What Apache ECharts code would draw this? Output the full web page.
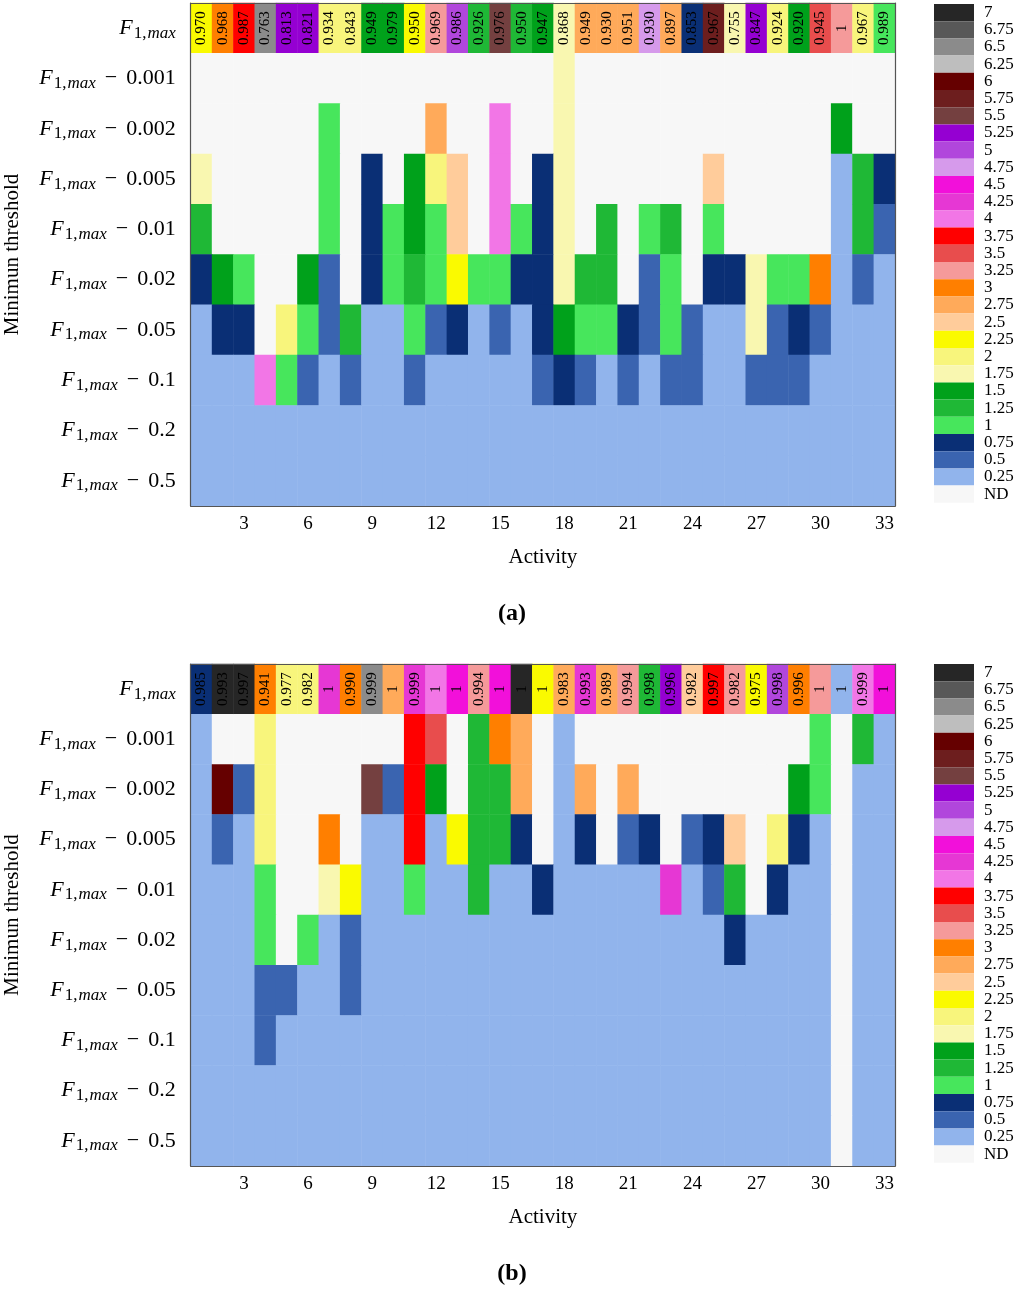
<!DOCTYPE html>
<html>
<head>
<meta charset="utf-8">
<script src="https://cdn.jsdelivr.net/npm/echarts@6/dist/echarts.min.js"></script>
<style>html,body{margin:0;padding:0;background:#fff}</style>
</head>
<body>
<div id="main" style="width:1024px;height:1292px"></div>
<script type="text/javascript">
	// 活动编号 1..33
	var activities = [];
	for (var k = 1; k <= 33; k++) activities.push(String(k));
	// 行：F1,max 以及各阈值
	var thresholds = ['F1max', '0.001', '0.002', '0.005', '0.01', '0.02', '0.05', '0.1', '0.2', '0.5'];

	// 图例取值 0 代表 ND
	var levels = [0, 0.25, 0.5, 0.75, 1, 1.25, 1.5, 1.75, 2, 2.25, 2.5, 2.75, 3, 3.25, 3.5, 3.75,
		4, 4.25, 4.5, 4.75, 5, 5.25, 5.5, 5.75, 6, 6.25, 6.5, 6.75, 7];
	var levelColors = ['#f7f7f7', '#91b4ec', '#3a64b0', '#0a2f75', '#47e65c', '#1fb836', '#00a11b',
		'#f9f7b0', '#f8f57c', '#fafa00', '#ffcc9b', '#ffaa5a', '#ff7f00', '#f59a9a', '#e84d4d', '#ff0000',
		'#f276e6', '#e637d4', '#f210da', '#d69aeb', '#b146dc', '#9500d2', '#744040', '#6d1e1e', '#650000',
		'#bebebe', '#8b8b8b', '#585858', '#262626'];

	// (a) 顶行 F1,max
	var topA = [2.25, 3, 3.75, 6.5, 5.25, 5.25, 2, 2, 1.5, 1.5, 2.25, 3.25, 5, 1.25, 5.5, 1.25, 1.5,
		1.75, 2.75, 2.75, 2.75, 4.75, 2.75, 0.75, 5.75, 1.75, 5.25, 2, 1.5, 3.5, 3.25, 2, 1];
	var f1A = ['0.970', '0.968', '0.987', '0.763', '0.813', '0.821', '0.934', '0.843', '0.949', '0.979',
		'0.950', '0.969', '0.986', '0.926', '0.976', '0.950', '0.947', '0.868', '0.949', '0.930', '0.951',
		'0.930', '0.897', '0.853', '0.967', '0.755', '0.847', '0.924', '0.920', '0.945', '1', '0.967', '0.989'];
	var a001 = [0, 0, 0, 0, 0, 0, 0, 0, 0, 0, 0, 0, 0, 0, 0, 0, 0, 1.75, 0, 0, 0, 0, 0, 0, 0, 0, 0, 0, 0, 0, 0, 0, 0];
	var a002 = [0, 0, 0, 0, 0, 0, 1, 0, 0, 0, 0, 2.75, 0, 0, 4, 0, 0, 1.75, 0, 0, 0, 0, 0, 0, 0, 0, 0, 0, 0, 0, 1.5, 0, 0];
	var a005 = [1.75, 0, 0, 0, 0, 0, 1, 0, 0.75, 0, 1.5, 2, 2.5, 0, 4, 0, 0.75, 1.75, 0, 0, 0, 0, 0, 0, 2.5, 0, 0, 0, 0, 0, 0.25, 1.25, 0.75];
	var a01 = [1.25, 0, 0, 0, 0, 0, 1, 0, 0.75, 1, 1.5, 1, 2.5, 0, 4, 1, 0.75, 1.75, 0, 1.25, 0, 1, 1.25, 0, 1, 0, 0, 0, 0, 0, 0.25, 1.25, 0.5];
	var a02 = [0.75, 1.5, 1, 0, 0, 1.5, 0.5, 0, 0.75, 1, 1.25, 1, 2.25, 1, 1, 0.75, 0.75, 1.75, 1.25, 1.25, 0, 0.5, 1, 0, 0.75, 0.75, 1.75, 1, 1, 3, 0.25, 0.5, 0.25];
	var a05 = [0.25, 0.75, 0.75, 0, 2, 1, 0.5, 1.25, 0.25, 0.25, 1, 0.5, 0.75, 0.25, 0.5, 0.25, 0.75, 1.5, 1, 1, 0.75, 0.5, 1, 0.5, 0.25, 0.25, 1.75, 0.5, 0.75, 0.5, 0.25, 0.25, 0.25];
	var a1 = [0.25, 0.25, 0.25, 4, 1, 0.5, 0.25, 0.5, 0.25, 0.25, 0.5, 0.25, 0.25, 0.25, 0.25, 0.25, 0.5, 0.75, 0.5, 0.25, 0.5, 0.25, 0.5, 0.5, 0.25, 0.25, 0.5, 0.5, 0.5, 0.25, 0.25, 0.25, 0.25];
	var a2 = [0.25, 0.25, 0.25, 0.25, 0.25, 0.25, 0.25, 0.25, 0.25, 0.25, 0.25, 0.25, 0.25, 0.25, 0.25, 0.25, 0.25, 0.25, 0.25, 0.25, 0.25, 0.25, 0.25, 0.25, 0.25, 0.25, 0.25, 0.25, 0.25, 0.25, 0.25, 0.25, 0.25];
	var a5 = [0.25, 0.25, 0.25, 0.25, 0.25, 0.25, 0.25, 0.25, 0.25, 0.25, 0.25, 0.25, 0.25, 0.25, 0.25, 0.25, 0.25, 0.25, 0.25, 0.25, 0.25, 0.25, 0.25, 0.25, 0.25, 0.25, 0.25, 0.25, 0.25, 0.25, 0.25, 0.25, 0.25];

	// (b)
	var topB = [0.75, 7, 7, 3, 2, 2, 4.25, 3, 6.5, 2.75, 4.25, 4, 4.5, 3.25, 4.5, 7, 2.25, 2.75, 4.25,
		2.75, 3.25, 1.25, 5.25, 2.5, 3.75, 3.25, 2.25, 5, 3, 3.25, 0.25, 4, 4.5];
	var f1B = ['0.985', '0.993', '0.997', '0.941', '0.977', '0.982', '1', '0.990', '0.999', '1', '0.999',
		'1', '1', '0.994', '1', '1', '1', '0.983', '0.993', '0.989', '0.994', '0.998', '0.996', '0.982',
		'0.997', '0.982', '0.975', '0.998', '0.996', '1', '1', '0.999', '1'];
	var b001 = [0.25, 0, 0, 2, 0, 0, 0, 0, 0, 0, 3.75, 3.5, 0, 1.25, 3, 2.75, 0, 0.25, 0, 0, 0, 0, 0, 0, 0, 0, 0, 0, 0, 1, 0, 1.25, 0.25];
	var b002 = [0.25, 6, 0.5, 2, 0, 0, 0, 0, 5.5, 0.5, 3.75, 1.5, 0, 1.25, 1.25, 2.75, 0, 0.25, 2.75, 0, 2.75, 0, 0, 0, 0, 0, 0, 0, 1.5, 1, 0, 0.25, 0.25];
	var b005 = [0.25, 0.5, 0.25, 2, 0, 0, 3, 0, 0.25, 0.25, 3.75, 0.25, 2.25, 1.25, 1.25, 0.75, 0, 0.25, 0.75, 0, 0.5, 0.75, 0, 0.5, 0.75, 2.5, 0, 2, 0.75, 0.25, 0, 0.25, 0.25];
	var b01 = [0.25, 0.25, 0.25, 1, 0, 0, 1.75, 2.25, 0.25, 0.25, 1, 0.25, 0.25, 1.25, 0.25, 0.25, 0.75, 0.25, 0.25, 0.25, 0.25, 0.25, 4.25, 0.25, 0.5, 1.25, 0, 0.75, 0.25, 0.25, 0, 0.25, 0.25];
	var b02 = [0.25, 0.25, 0.25, 1, 0, 1, 0.25, 0.5, 0.25, 0.25, 0.25, 0.25, 0.25, 0.25, 0.25, 0.25, 0.25, 0.25, 0.25, 0.25, 0.25, 0.25, 0.25, 0.25, 0.25, 0.75, 0.25, 0.25, 0.25, 0.25, 0, 0.25, 0.25];
	var b05 = [0.25, 0.25, 0.25, 0.5, 0.5, 0.25, 0.25, 0.5, 0.25, 0.25, 0.25, 0.25, 0.25, 0.25, 0.25, 0.25, 0.25, 0.25, 0.25, 0.25, 0.25, 0.25, 0.25, 0.25, 0.25, 0.25, 0.25, 0.25, 0.25, 0.25, 0, 0.25, 0.25];
	var b1 = [0.25, 0.25, 0.25, 0.5, 0.25, 0.25, 0.25, 0.25, 0.25, 0.25, 0.25, 0.25, 0.25, 0.25, 0.25, 0.25, 0.25, 0.25, 0.25, 0.25, 0.25, 0.25, 0.25, 0.25, 0.25, 0.25, 0.25, 0.25, 0.25, 0.25, 0, 0.25, 0.25];
	var b2 = [0.25, 0.25, 0.25, 0.25, 0.25, 0.25, 0.25, 0.25, 0.25, 0.25, 0.25, 0.25, 0.25, 0.25, 0.25, 0.25, 0.25, 0.25, 0.25, 0.25, 0.25, 0.25, 0.25, 0.25, 0.25, 0.25, 0.25, 0.25, 0.25, 0.25, 0, 0.25, 0.25];
	var b5 = [0.25, 0.25, 0.25, 0.25, 0.25, 0.25, 0.25, 0.25, 0.25, 0.25, 0.25, 0.25, 0.25, 0.25, 0.25, 0.25, 0.25, 0.25, 0.25, 0.25, 0.25, 0.25, 0.25, 0.25, 0.25, 0.25, 0.25, 0.25, 0.25, 0.25, 0, 0.25, 0.25];

	var FONT = 'Liberation Serif';

	// 组装热力图数据 [x, y, value]，顶行带 F1 文字
	function buildData(top, labels, rows) {
		var data = [];
		for (var i = 0; i < top.length; i++) {
			data.push({ value: [i, 0, top[i]], label: { show: true, formatter: labels[i] } });
		}
		rows.forEach(function (r, j) {
			r.forEach(function (v, i) { data.push([i, j + 1, v]); });
		});
		return data;
	}
	var dataA = buildData(topA, f1A, [a001, a002, a005, a01, a02, a05, a1, a2, a5]);
	var dataB = buildData(topB, f1B, [b001, b002, b005, b01, b02, b05, b1, b2, b5]);

	var pieces = levels.map(function (v, i) {
		return { value: v, label: v === 0 ? 'ND' : String(v), color: levelColors[i] };
	});

	function yLabel(v) {
		if (v === 'F1max') return '{f|F}{s|1,}{si|max}';
		return '{f|F}{s|1,}{si|max}{m|−}{n|' + v + '}';
	}
	var yRich = {
		f: { fontFamily: FONT, fontStyle: 'italic', fontSize: 22, color: '#000' },
		s: { fontFamily: FONT, fontSize: 17, color: '#000', padding: [10, 1, 0, 1] },
		si: { fontFamily: FONT, fontStyle: 'italic', fontSize: 17, color: '#000', padding: [10, 0, 0, 0] },
		m: { fontFamily: FONT, fontSize: 22, color: '#000', padding: [0, 9, 0, 9] },
		n: { fontFamily: FONT, fontSize: 22, color: '#000' }
	};
	var every3 = function (i) { return (i + 1) % 3 === 0; };
	var lineStyle = { color: '#555', width: 1.2 };

	function axesFor(gi) {
		return {
			x: [
				{
					type: 'category', gridIndex: gi, data: activities, z: 5,
					axisLine: { lineStyle: lineStyle },
					axisTick: { inside: true, length: 5, interval: every3, alignWithLabel: true, lineStyle: lineStyle },
					axisLabel: { interval: every3, margin: 9, fontFamily: FONT, fontSize: 19, color: '#000' },
					name: 'Activity', nameLocation: 'middle', nameGap: 41,
					nameTextStyle: { fontFamily: FONT, fontSize: 21, color: '#000' }
				},
				{
					type: 'category', gridIndex: gi, data: activities, position: 'top', z: 5,
					axisLine: { lineStyle: lineStyle }, axisTick: { show: false }, axisLabel: { show: false }
				}
			],
			y: [
				{
					type: 'category', gridIndex: gi, data: thresholds, inverse: true, z: 5,
					axisLine: { lineStyle: lineStyle },
					axisTick: { inside: true, length: 6, alignWithLabel: true, lineStyle: lineStyle },
					axisLabel: { margin: 15, formatter: yLabel, rich: yRich },
					name: 'Minimun threshold', nameLocation: 'middle', nameGap: 168,
					nameTextStyle: { fontFamily: FONT, fontSize: 21, color: '#000' }
				},
				{
					type: 'category', gridIndex: gi, data: thresholds, inverse: true, position: 'right', z: 5,
					axisLine: { lineStyle: lineStyle },
					axisTick: { inside: true, length: 6, alignWithLabel: true, lineStyle: lineStyle },
					axisLabel: { show: false }
				}
			]
		};
	}
	var axA = axesFor(0), axB = axesFor(1);

	function legendFor(si, top) {
		return {
			type: 'piecewise', seriesIndex: si, dimension: 2, pieces: pieces,
			orient: 'vertical', left: 934, top: top, align: 'left', padding: 0,
			itemWidth: 40, itemHeight: 17.2, itemGap: 0, itemSymbol: 'rect',
			textGap: 10, selectedMode: false, hoverLink: false,
			textStyle: { fontFamily: FONT, fontSize: 17, lineHeight: 17, color: '#000' }
		};
	}

	function heatSeries(gx, gy, data) {
		return {
			type: 'heatmap', xAxisIndex: gx, yAxisIndex: gy, data: data,
			label: { show: false, rotate: 90, fontFamily: FONT, fontSize: 15, color: '#000' },
			itemStyle: { borderWidth: 0 },
			emphasis: { disabled: true }
		};
	}

	function caption(letter, top) {
		return {
			text: '{p|(}{b|' + letter + '}{p|)}', left: 'center', top: top,
			textStyle: {
				rich: {
					p: { fontFamily: FONT, fontSize: 24, color: '#000' },
					b: { fontFamily: FONT, fontSize: 24, fontWeight: 'bold', color: '#000' }
				}
			}
		};
	}

	var myChart = echarts.init(document.getElementById('main'));
	var option = {
		animation: false,
		backgroundColor: '#fff',
		title: [caption('a', 597), caption('b', 1257)],
		grid: [
			{ left: 190.7, top: 3, width: 704.5, height: 503, containLabel: false, outerBoundsMode: 'none' },
			{ left: 190.7, top: 664, width: 704.5, height: 502, containLabel: false, outerBoundsMode: 'none' }
		],
		xAxis: axA.x.concat(axB.x),
		yAxis: axA.y.concat(axB.y),
		visualMap: [legendFor(0, 4), legendFor(1, 664)],
		series: [heatSeries(0, 0, dataA), heatSeries(2, 2, dataB)]
	};
	myChart.setOption(option);
</script>
</body>
</html>
